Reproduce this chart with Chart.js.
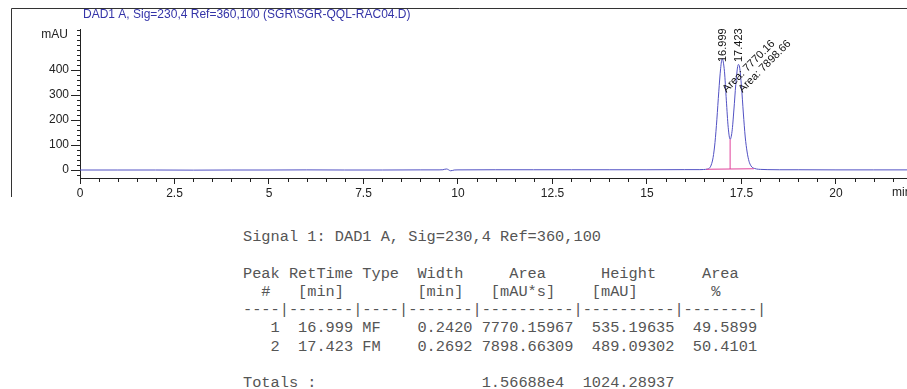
<!DOCTYPE html>
<html>
<head>
<meta charset="utf-8">
<script src="https://cdn.jsdelivr.net/npm/chart.js@4/dist/chart.umd.min.js"></script>
<style>
  html, body { margin: 0; padding: 0; background: #fff; }
  #wrap { position: relative; width: 907px; height: 389px; overflow: hidden; background: #fff; }
  #c { position: absolute; left: 0; top: 0; }
  #tbl { position: absolute; left: 243px; top: 228px; margin: 0;
         font: 15.3px/18.3px "Liberation Mono", "Courier New", monospace; color: #555; white-space: pre; }
</style>
</head>
<body>
<div id="wrap">
  <canvas id="c" width="907" height="200"></canvas>
  <pre id="tbl"></pre>
</div>
<script>
// ---------- data ----------
const chartTitle = 'DAD1 A, Sig=230,4 Ref=360,100 (SGR\\SGR-QQL-RAC04.D)';
const yUnit = 'mAU';
const xUnit = 'min';

// retention time (min) and detector signal (mAU)
const times  = [0, 1, 2, 3, 4, 5, 6, 7, 8, 9, 9.5, 9.6, 9.65, 9.7, 9.75, 9.8, 9.85, 9.9, 10,
                11, 12, 13, 14, 15, 16, 16.4, 16.5, 16.55, 16.6, 16.65, 16.7, 16.75, 16.8, 16.85,
                16.9, 16.95, 16.99, 17.05, 17.1, 17.15, 17.2, 17.25, 17.3, 17.35, 17.4, 17.42,
                17.45, 17.5, 17.55, 17.6, 17.65, 17.7, 17.75, 17.8, 17.85, 17.9, 17.95, 18.0,
                18.2, 18.5, 19, 20, 21, 21.9];
const signal = [0, 0, 0, -0.5, 0, 0, 0.5, 0, 0, 0.5, 0.5, 1, 3, 4, 1, -3, -2, 0, 0.5,
                1, 1, 1, 1, 1, 1.5, 1.5, 2, 2.5, 3.5, 7, 20, 50, 110, 203,
                313, 407, 445, 395, 279, 170, 123, 153, 240, 342, 414, 422,
                412, 336, 228, 132, 72, 35, 17, 9, 6, 4, 3, 2.5,
                1.5, 1, 1, 0.5, 0.5, 0.5];

// integration baseline and drop line
const baselineX = [16.57, 17.83];
const baselineY = [3, 5];
const dropX = [17.2, 17.2];
const dropY = [4, 123];

// axis ticks
const xTicks = [0, 2.5, 5, 7.5, 10, 12.5, 15, 17.5, 20];
const xTickLabels = ['0', '2.5', '5', '7.5', '10', '12.5', '15', '17.5', '20'];
const yTicks = [0, 100, 200, 300, 400];
const yTickLabels = ['0', '100', '200', '300', '400'];

// peak annotations
const peakTimes = [16.999, 17.423];
const peakRtLabels = ['16.999', '17.423'];
const peakAreaLabels = ['Area: 7770.16', 'Area: 7898.66'];

// report table
const signalLine = 'Signal 1: DAD1 A, Sig=230,4 Ref=360,100';
const headerLines = [
  'Peak RetTime Type  Width     Area      Height     Area  ',
  '  #   [min]        [min]   [mAU*s]    [mAU]        %   ',
  '----|-------|----|-------|----------|----------|--------|'
];
const peakNo = [1, 2];
const peakRT = [16.999, 17.423];
const peakType = ['MF', 'FM'];
const peakWidth = [0.2420, 0.2692];
const peakArea = [7770.15967, 7898.66309];
const peakHeight = [535.19635, 489.09302];
const peakAreaPct = [49.5899, 50.4101];
const totalArea = '1.56688e4';
const totalHeight = '1024.28937';

// ---------- table ----------
const rows = peakNo.map((n, i) =>
  String(n).padStart(4) + ' ' + peakRT[i].toFixed(3).padStart(7) + ' ' + peakType[i].padEnd(4) + ' ' +
  peakWidth[i].toFixed(4).padStart(7) + ' ' + peakArea[i].toFixed(5).padStart(10) + ' ' +
  peakHeight[i].toFixed(5).padStart(10) + ' ' + peakAreaPct[i].toFixed(4).padStart(8));
const totalsLine = 'Totals :'.padEnd(26) + totalArea.padEnd(10) + ' ' + totalHeight;
document.getElementById('tbl').textContent =
  [signalLine, '', ...headerLines, ...rows, '', totalsLine].join('\n');

// ---------- chart ----------
const SANS = '"Liberation Sans", Arial, sans-serif';
const AX = '#222';

const decor = {
  id: 'decor',
  beforeDraw(chart) {
    const ctx = chart.ctx;
    ctx.save();
    ctx.fillStyle = '#fff';
    ctx.fillRect(0, 0, chart.width, chart.height);
    ctx.restore();
  },
  afterDraw(chart) {
    const ctx = chart.ctx, xs = chart.scales.x, ys = chart.scales.y, ca = chart.chartArea;
    ctx.save();
    // outer frame
    ctx.strokeStyle = '#333';
    ctx.lineWidth = 1;
    ctx.beginPath();
    ctx.moveTo(11.5, 197);
    ctx.lineTo(11.5, 8.5);
    ctx.lineTo(chart.width, 8.5);
    ctx.stroke();
    // title
    ctx.fillStyle = '#3434a8';
    ctx.font = '12px ' + SANS;
    ctx.textBaseline = 'middle';
    ctx.textAlign = 'left';
    ctx.fillText(chartTitle, 83, 15);
    // unit labels
    ctx.fillStyle = AX;
    ctx.textAlign = 'right';
    ctx.fillText(yUnit, ca.left - 12, ys.getPixelForValue(540));
    ctx.textAlign = 'left';
    ctx.fillText(xUnit, ca.right - 15, ca.bottom + 15);
    // minor ticks
    ctx.strokeStyle = AX;
    ctx.beginPath();
    for (let v = -20; v <= ys.max; v += 20) {
      if (yTicks.includes(v)) continue;
      const y = Math.round(ys.getPixelForValue(v)) + 0.5;
      ctx.moveTo(ca.left - 3, y); ctx.lineTo(ca.left, y);
    }
    for (let k = 1; k * 0.5 <= xs.max; k++) {
      const v = k * 0.5;
      if (xTicks.includes(v)) continue;
      const x = Math.round(xs.getPixelForValue(v)) + 0.5;
      ctx.moveTo(x, ca.bottom); ctx.lineTo(x, ca.bottom + 4);
    }
    ctx.stroke();
    // peak annotations
    ctx.fillStyle = '#111';
    ctx.font = '11px ' + SANS;
    peakTimes.forEach((t, i) => {
      const px = xs.getPixelForValue(t);
      ctx.save();
      ctx.translate(px, ys.getPixelForValue(432));
      ctx.rotate(-Math.PI / 2);
      ctx.textAlign = 'left';
      ctx.textBaseline = 'middle';
      ctx.fillText(peakRtLabels[i], 0, 0);
      ctx.restore();
      ctx.save();
      ctx.translate(px + 4, 93);
      ctx.rotate(-Math.PI / 4);
      ctx.textAlign = 'left';
      ctx.textBaseline = 'alphabetic';
      ctx.fillText(peakAreaLabels[i], 0, 0);
      ctx.restore();
    });
    ctx.restore();
  }
};

new Chart(document.getElementById('c'), {
  type: 'line',
  data: {
    datasets: [
      {
        data: baselineX.map((x, i) => ({ x, y: baselineY[i] })),
        borderColor: '#e0409a', borderWidth: 1, pointRadius: 0, order: 0
      },
      {
        data: dropX.map((x, i) => ({ x, y: dropY[i] })),
        borderColor: '#e0409a', borderWidth: 1, pointRadius: 0, order: 0
      },
      {
        data: times.map((x, i) => ({ x, y: signal[i] })),
        borderColor: '#5252c4', borderWidth: 1, pointRadius: 0,
        cubicInterpolationMode: 'monotone', order: 1
      }
    ]
  },
  options: {
    responsive: false,
    animation: false,
    devicePixelRatio: 1,
    layout: { padding: { top: 29, left: 0, right: 0, bottom: 0 } },
    plugins: { legend: { display: false }, tooltip: { enabled: false } },
    scales: {
      x: {
        type: 'linear', min: 0, max: 21.88,
        afterBuildTicks: s => { s.ticks = xTicks.map(v => ({ value: v })); },
        afterFit: s => { s.height = 22; },
        border: { display: true, color: AX, width: 1 },
        grid: { display: true, drawOnChartArea: false, drawTicks: true, tickLength: 6, color: AX },
        ticks: {
          autoSkip: false, maxRotation: 0, padding: 2, color: AX,
          font: { family: SANS, size: 12 },
          callback: (v) => { const i = xTicks.indexOf(v); return i >= 0 ? xTickLabels[i] : ''; }
        }
      },
      y: {
        type: 'linear', min: -32, max: 564,
        afterBuildTicks: s => { s.ticks = yTicks.map(v => ({ value: v })); },
        afterFit: s => { s.width = 80; },
        border: { display: true, color: AX, width: 1 },
        grid: { display: true, drawOnChartArea: false, drawTicks: true, tickLength: 9, color: AX },
        ticks: {
          autoSkip: false, padding: 2, color: AX,
          font: { family: SANS, size: 12 },
          callback: (v) => { const i = yTicks.indexOf(v); return i >= 0 ? yTickLabels[i] : ''; }
        }
      }
    }
  },
  plugins: [decor]
});
</script>
</body>
</html>
